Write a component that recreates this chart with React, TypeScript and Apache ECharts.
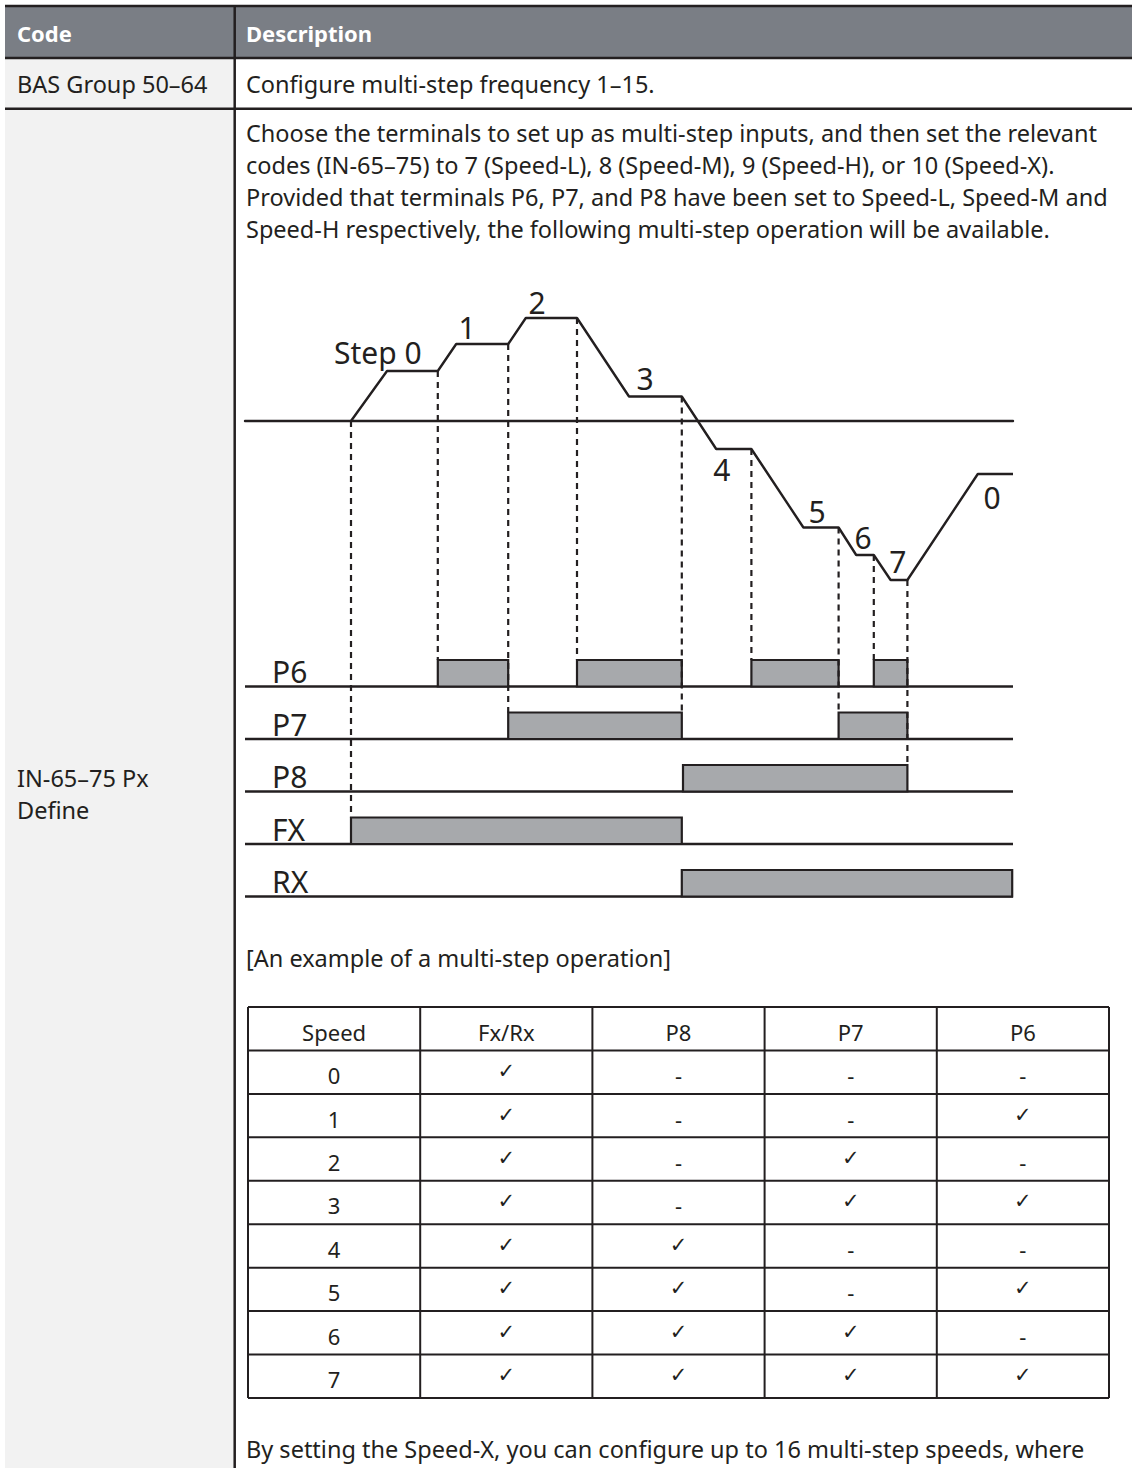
import React, { useEffect, useRef } from "react";
import * as echarts from "echarts";

// ---------------- data ----------------
// frequency profile (time units, frequency units)
const waveTime = [13.25, 17.75, 24.1, 26.4, 32.9, 35.1, 41.5, 48.0, 54.6, 58.9, 63.3, 69.8, 74.2, 76.4, 78.6, 80.7, 82.8, 91.6, 96.0];
const waveFreq = [0, 20, 20, 30.8, 30.8, 41.2, 41.2, 9.8, 9.8, -11.2, -11.2, -42.6, -42.6, -53.6, -53.6, -63.6, -63.6, -21.2, -21.2];

// step labels
const stepLabels = ["Step 0", "1", "2", "3", "4", "5", "6", "7", "0"];
const stepLabelTime = [16.6, 27.75, 36.5, 50.0, 59.6, 71.5, 77.25, 81.6, 93.4];
const stepLabelFreq = [27.6, 37.6, 47.6, 17.2, -19.2, -36.0, -46.4, -56.0, -30.4];

// terminal signals
const signalNames = ["P6", "P7", "P8", "FX", "RX"];
const pulseSignal = [0, 0, 0, 0, 1, 1, 2, 3, 4];
const pulseStart = [24.1, 41.5, 63.3, 78.6, 32.9, 74.2, 54.75, 13.25, 54.6];
const pulseEnd = [32.9, 54.6, 74.2, 82.8, 54.6, 82.8, 82.8, 54.6, 95.9];

// dashed guide lines: time, frequency at the top, signal row at the bottom
const guideTime = [13.25, 24.1, 32.9, 41.5, 54.6, 63.3, 74.2, 78.6, 82.8];
const guideFreq = [0, 20, 30.8, 41.2, 9.8, -11.2, -42.6, -53.6, -63.6];
const guideSignal = [3, 0, 1, 0, 1, 0, 1, 0, 2];

// speed table
const tableHeaders = ["Speed", "Fx/Rx", "P8", "P7", "P6"];
const speeds = ["0", "1", "2", "3", "4", "5", "6", "7"];
const fxRxOn = [1, 1, 1, 1, 1, 1, 1, 1];
const p8On = [0, 0, 0, 0, 1, 1, 1, 1];
const p7On = [0, 0, 1, 1, 0, 0, 1, 1];
const p6On = [0, 1, 0, 1, 0, 1, 0, 1];

// texts
const headerCode = "Code";
const headerDesc = "Description";
const row1Code = "BAS Group 50–64";
const row1Desc = "Configure multi-step frequency 1–15.";
const row2Code = ["IN-65–75 Px", "Define"];
const row2Desc = [
  "Choose the terminals to set up as multi-step inputs, and then set the relevant",
  "codes (IN-65–75) to 7 (Speed-L), 8 (Speed-M), 9 (Speed-H), or 10 (Speed-X).",
  "Provided that terminals P6, P7, and P8 have been set to Speed-L, Speed-M and",
  "Speed-H respectively, the following multi-step operation will be available.",
];
const caption = "[An example of a multi-step operation]";
const footer = "By setting the Speed-X, you can configure up to 16 multi-step speeds, where";

// ---------------- layout / style ----------------
const INK = "#231f20";
const FONT = '"Noto Sans", "Open Sans", sans-serif';
const DIAG_FONT = '"Noto Sans", "Open Sans", sans-serif';
const BAR_FILL = "#a7a9ac";
const ROW_BASE0 = -106.2;
const ROW_STEP = 21.0;
const PULSE_H = 10.6;
const rowBase = (i: number) => ROW_BASE0 - i * ROW_STEP;

function buildGraphic() {
  const g: any[] = [];
  const text = (x: number, y: number, t: string, opts: any = {}) =>
    g.push({
      type: "text",
      x,
      y,
      z: 10,
      style: {
        text: t,
        fill: opts.fill || INK,
        fontSize: opts.size || 23.5,
        fontFamily: opts.family || FONT,
        fontWeight: opts.weight || "normal",
        align: opts.align || "left",
        verticalAlign: "middle",
      },
    });
  const line = (x1: number, y1: number, x2: number, y2: number, w = 2.5) =>
    g.push({ type: "line", z: 5, shape: { x1, y1, x2, y2 }, style: { stroke: INK, lineWidth: w } });

  // backgrounds
  g.push({ type: "rect", z: 1, shape: { x: 5, y: 5, width: 1127, height: 53 }, style: { fill: "#7a7e85" } });
  g.push({ type: "rect", z: 1, shape: { x: 5, y: 58, width: 229, height: 1410 }, style: { fill: "#f2f2f2" } });

  // table rules
  line(5, 6, 1132, 6);
  line(5, 58, 1132, 58);
  line(5, 108.7, 1132, 108.7);
  line(234.7, 5, 234.7, 1468);

  // header
  text(17, 33, headerCode, { fill: "#ffffff", weight: "bold", size: 22 });
  text(246, 33, headerDesc, { fill: "#ffffff", weight: "bold", size: 22 });

  // row 1
  text(17, 84, row1Code);
  text(246, 84, row1Desc);

  // row 2
  row2Code.forEach((t, i) => text(17, 778 + i * 32, t));
  row2Desc.forEach((t, i) => text(246, 133 + i * 32, t));
  text(246, 958, caption);
  text(246, 1449, footer);

  // speed table
  const left = 248;
  const top = 1007;
  const colW = 172.2;
  const rowH = 43.44;
  const nRows = speeds.length + 1;
  for (let i = 0; i <= tableHeaders.length; i++) {
    line(left + i * colW, top, left + i * colW, top + nRows * rowH, 2);
  }
  for (let j = 0; j <= nRows; j++) {
    line(left, top + j * rowH, left + tableHeaders.length * colW, top + j * rowH, 2);
  }
  tableHeaders.forEach((h, i) =>
    text(left + (i + 0.5) * colW, top + rowH / 2 + 3, h, { align: "center", size: 22 })
  );
  const cols = [fxRxOn, p8On, p7On, p6On];
  speeds.forEach((s, r) => {
    const cy = top + (r + 1.5) * rowH;
    text(left + 0.5 * colW, cy + 3, s, { align: "center", size: 22 });
    cols.forEach((col, c) => {
      const cx = left + (c + 1.5) * colW;
      if (col[r]) text(cx, cy - 1, "✓", { align: "center", size: 21, family: '"DejaVu Sans", sans-serif' });
      else text(cx, cy + 3, "-", { align: "center", size: 22 });
    });
  });
  return g;
}

const option: any = {
  animation: false,
  backgroundColor: "#ffffff",
  graphic: buildGraphic(),
  grid: { left: 245, top: 291, width: 768, height: 620 },
  xAxis: {
    type: "value",
    min: 0,
    max: 96,
    axisLine: { show: true, onZero: true, lineStyle: { color: INK, width: 2.4 } },
    axisTick: { show: false },
    axisLabel: { show: false },
    splitLine: { show: false },
  },
  yAxis: {
    type: "value",
    min: -196,
    max: 52,
    axisLine: { show: false },
    axisTick: { show: false },
    axisLabel: { show: false },
    splitLine: { show: false },
  },
  series: [
    {
      name: "signals",
      type: "custom",
      z: 3,
      data: signalNames.map((_, i) => [0, i]),
      renderItem: (params: any, api: any) => {
        const i = params.dataIndex;
        const a = api.coord([0, rowBase(i)]);
        const b = api.coord([96, rowBase(i)]);
        return {
          type: "group",
          children: [
            { type: "line", shape: { x1: a[0], y1: a[1], x2: b[0], y2: b[1] }, style: { stroke: INK, lineWidth: 2.4 } },
            {
              type: "text",
              x: a[0] + 27,
              y: a[1] - 15,
              style: { text: signalNames[i], fill: INK, fontSize: 30, fontFamily: DIAG_FONT, align: "left", verticalAlign: "middle" },
            },
          ],
        };
      },
    },
    {
      name: "pulses",
      type: "custom",
      z: 4,
      data: pulseStart.map((s, i) => [s, pulseEnd[i], pulseSignal[i]]),
      encode: { x: [0, 1], y: 2 },
      renderItem: (params: any, api: any) => {
        const s = api.value(0);
        const e = api.value(1);
        const row = api.value(2);
        const base = rowBase(row);
        const p0 = api.coord([s, base + PULSE_H]);
        const p1 = api.coord([e, base]);
        return {
          type: "rect",
          shape: { x: p0[0], y: p0[1], width: p1[0] - p0[0], height: p1[1] - p0[1] },
          style: { fill: BAR_FILL, stroke: INK, lineWidth: 2.2 },
        };
      },
    },
    {
      name: "guides",
      type: "custom",
      z: 5,
      data: guideTime.map((t, i) => [t, guideFreq[i], guideSignal[i]]),
      encode: { x: 0, y: 1 },
      renderItem: (params: any, api: any) => {
        const t = api.value(0);
        const f = api.value(1);
        const row = api.value(2);
        const a = api.coord([t, f]);
        const b = api.coord([t, rowBase(row) + PULSE_H]);
        return {
          type: "line",
          shape: { x1: a[0], y1: a[1], x2: b[0], y2: b[1] },
          style: { stroke: INK, lineWidth: 2.2, lineDash: [6, 5] },
        };
      },
    },
    {
      name: "frequency",
      type: "line",
      z: 6,
      symbol: "none",
      data: waveTime.map((t, i) => [t, waveFreq[i]]),
      lineStyle: { color: INK, width: 2.4 },
    },
    {
      name: "steps",
      type: "custom",
      z: 7,
      data: stepLabelTime.map((t, i) => [t, stepLabelFreq[i]]),
      renderItem: (params: any, api: any) => {
        const p = api.coord([api.value(0), api.value(1)]);
        return {
          type: "text",
          x: p[0],
          y: p[1],
          style: {
            text: stepLabels[params.dataIndex],
            fill: INK,
            fontSize: 30,
            fontFamily: DIAG_FONT,
            align: "center",
            verticalAlign: "middle",
          },
        };
      },
    },
  ],
};

export default function App() {
  const ref = useRef<HTMLDivElement>(null);
  useEffect(() => {
    if (!ref.current) return;
    const chart = echarts.init(ref.current, undefined, { renderer: "svg" });
    chart.setOption(option);
    return () => chart.dispose();
  }, []);
  return (
    <div
      ref={ref}
      style={{ position: "absolute", left: 0, top: 0, width: 1132, height: 1468, background: "#ffffff" }}
    />
  );
}
